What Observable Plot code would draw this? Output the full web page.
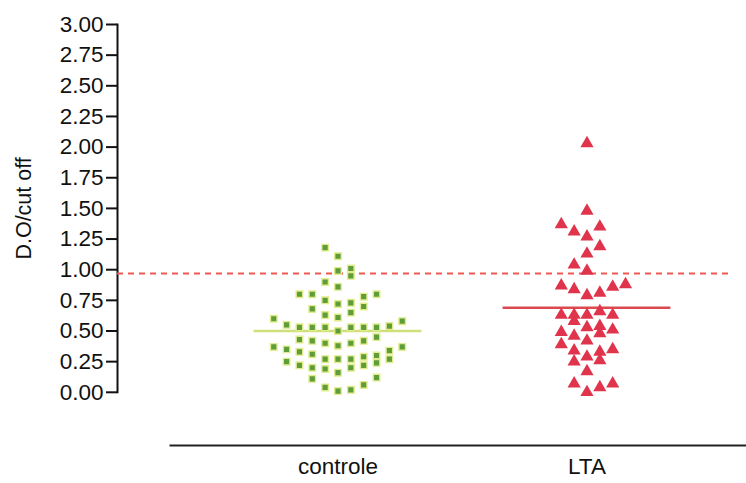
<!DOCTYPE html>
<html>
<head>
<meta charset="utf-8">
<script src="https://cdn.jsdelivr.net/npm/d3@7"></script>
<script src="https://cdn.jsdelivr.net/npm/@observablehq/plot@0.6"></script>
<style>
  html, body { margin: 0; padding: 0; background: #fff; }
  #chart svg { display: block; }
</style>
</head>
<body>
<div id="chart"></div>
<script>
// Groups shown along the horizontal axis
const groups = ["controle", "LTA"];

// D.O/cut off ratios per subject, with the column each dot sits in within its group
const controleValues = [1.18, 1.11, 0.99, 1.01, 0.95, 0.90, 0.86, 0.80, 0.80, 0.78,
  0.80, 0.75, 0.72, 0.73, 0.70, 0.68, 0.63, 0.61, 0.65, 0.60,
  0.58, 0.55, 0.53, 0.53, 0.53, 0.53, 0.53, 0.53, 0.54, 0.50,
  0.45, 0.43, 0.42, 0.40, 0.38, 0.40, 0.42, 0.37, 0.35, 0.33,
  0.31, 0.27, 0.27, 0.27, 0.29, 0.30, 0.34, 0.37, 0.25, 0.22,
  0.20, 0.19, 0.16, 0.20, 0.22, 0.24, 0.27, 0.11, 0.12, 0.04,
  0.01, 0.02, 0.06];
const controleColumns = [-1, 0, 0, 1, 1, -1, 0, -3, -2, 2,
  3, -1, 0, 1, 2, -2, -1, 0, 1, -5,
  5, -4, -3, -2, -1, 1, 2, 3, 4, 0,
  3, -3, -2, -1, 0, 1, 2, -5, -4, -3,
  -2, -1, 0, 1, 2, 3, 4, 5, -4, -3,
  -2, -1, 0, 1, 2, 3, 4, -2, 3, -1,
  0, 1, 2];

const ltaValues = [2.03, 1.48, 1.37, 1.35, 1.31, 1.27, 1.19, 1.13, 1.04, 0.99,
  0.87, 0.84, 0.79, 0.81, 0.86, 0.88, 0.63, 0.63, 0.63, 0.63,
  0.66, 0.58, 0.53, 0.54, 0.49, 0.48, 0.51, 0.46, 0.42, 0.39,
  0.34, 0.35, 0.33, 0.29, 0.25, 0.26, 0.17, 0.07, 0.07, 0.04,
  0.00];
const ltaColumns = [0, 0, -2, 1, -1, 0, 1, 0, -1, 0,
  -2, -1, 0, 1, 2, 3, -2, -1, 0, 2,
  1, -1, 0, 1, -2, 1, 2, -1, 0, -2,
  -1, 2, 1, 0, -1, 1, 0, -1, 2, 1,
  0];

// Group means and the positivity cut-off
const groupMeans = [0.50, 0.69];
const cutoff = 0.97;

// Y axis tick values
const yTicks = [0, 0.25, 0.5, 0.75, 1, 1.25, 1.5, 1.75, 2, 2.25, 2.5, 2.75, 3];

// Layout helpers: column spacing and mean bar half-width, in group units
const columnStep = 0.0516;
const meanHalfWidth = 0.337;

const toRows = (values, columns, g) =>
  values.map((v, i) => ({group: g, value: v, pos: g + columns[i] * columnStep}));

const controle = toRows(controleValues, controleColumns, 0);
const lta = toRows(ltaValues, ltaColumns, 1);
const means = groupMeans.map((m, g) => ({group: g, mean: m}));

const font = "'Liberation Sans', Arial, Helvetica, sans-serif";

const chart = Plot.plot({
  width: 746,
  height: 483,
  marginTop: 24,
  marginBottom: 91.2,
  marginLeft: 117,
  marginRight: 0,
  style: {fontFamily: font, fontSize: "22.5px", color: "#111", background: "#fff"},
  x: {domain: [-0.8855, 1.6406]},
  y: {domain: [0, 3]},
  marks: [
    // vertical axis line
    Plot.frame({anchor: "left", stroke: "#111", strokeWidth: 2}),
    // baseline under the plot area
    Plot.frame({anchor: "bottom", dy: 53.2, insetLeft: 53, stroke: "#222", strokeWidth: 2}),
    Plot.axisY(yTicks, {
      tickFormat: d => d.toFixed(2),
      tickSize: 11,
      tickPadding: 3,
      strokeWidth: 2,
      label: null
    }),
    Plot.text(["D.O/cut off"], {
      frameAnchor: "left",
      dx: -93,
      rotate: -90,
      lineAnchor: "middle",
      textAnchor: "middle",
      fontSize: 21.5
    }),
    Plot.axisX([0, 1], {
      tickFormat: i => groups[i],
      tickSize: 0,
      tickPadding: 66,
      label: null
    }),
    // cut-off line
    Plot.ruleY([cutoff], {
      stroke: "#ee5a4e",
      strokeWidth: 2,
      strokeDasharray: "6,5",
      insetRight: 14
    }),
    // group means
    Plot.ruleY(means, {
      y: "mean",
      x1: d => d.group - meanHalfWidth,
      x2: d => d.group + meanHalfWidth,
      stroke: d => d.group === 0 ? "#cfe07a" : "#dc4a50",
      strokeWidth: 2.5
    }),
    Plot.dot(controle, {
      x: "pos",
      y: "value",
      symbol: "square",
      r: 3.7,
      fill: "#5f9c3a",
      stroke: "#e2ec8c",
      strokeWidth: 1.4
    }),
    Plot.dot(lta, {
      x: "pos",
      y: "value",
      symbol: "triangle",
      r: 4.9,
      fill: "#e0344c",
      stroke: "none"
    })
  ]
});

document.getElementById("chart").appendChild(chart);
</script>
</body>
</html>
